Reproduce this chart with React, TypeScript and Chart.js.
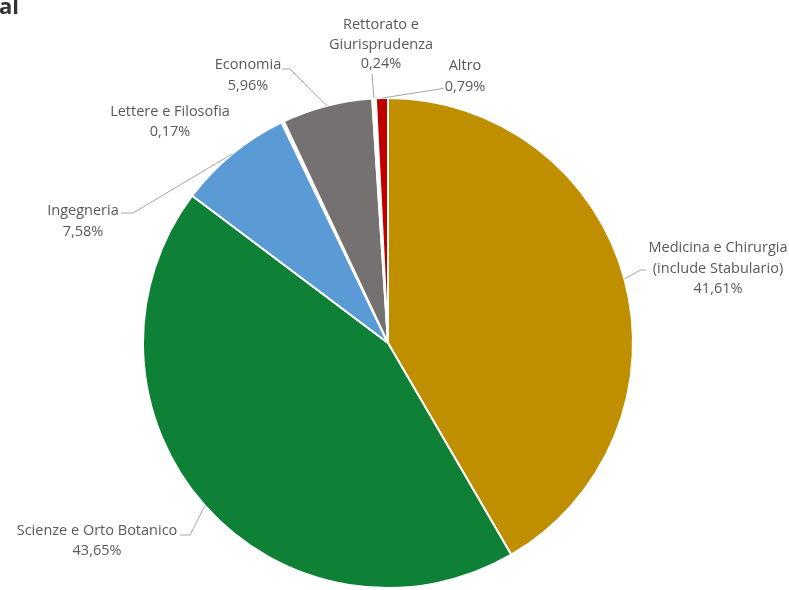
import React, { useEffect, useRef } from "react";
import { Chart, registerables } from "chart.js";

Chart.register(...registerables);

const categories = [
  "Medicina e Chirurgia (include Stabulario)",
  "Scienze e Orto Botanico",
  "Ingegneria",
  "Lettere e Filosofia",
  "Economia",
  "Rettorato e Giurisprudenza",
  "Altro",
];
const categoryLines = [
  ["Medicina e Chirurgia", "(include Stabulario)"],
  ["Scienze e Orto Botanico"],
  ["Ingegneria"],
  ["Lettere e Filosofia"],
  ["Economia"],
  ["Rettorato e", "Giurisprudenza"],
  ["Altro"],
];
const values = [41.61, 43.65, 7.58, 0.17, 5.96, 0.24, 0.79];
const colors = ["#BF8F00", "#0E8136", "#5B9BD5", "#FFFFFF", "#767171", "#FFFFFF", "#C00000"];

// label layout (text centre of first line, line height, leader polyline start points)
const labelLayout = [
  { x: 718, y: 248, lh: 20.5, lead: [[646, 270], [640, 270]] },
  { x: 97, y: 531, lh: 19.5, lead: [[180, 535], [190, 535]] },
  { x: 83, y: 211, lh: 21, lead: [[121, 213], [133, 213]] },
  { x: 170, y: 112, lh: 20, lead: [] as number[][] },
  { x: 248, y: 65, lh: 21, lead: [[282, 69], [290, 69]] },
  { x: 381, y: 25, lh: 19.5, lead: [[372, 74]] },
  { x: 465, y: 66, lh: 21, lead: [[444, 88], [440, 89]] },
];

const fmtPct = (v: number) => v.toFixed(2).replace(".", ",") + "%";

const labelPlugin = {
  id: "pieLabels",
  afterDraw(chart: any) {
    const ctx = chart.ctx;
    const meta = chart.getDatasetMeta(0);
    ctx.save();
    // cut-off title fragment
    ctx.fillStyle = "#333333";
    ctx.font = "bold 22px 'Open Sans', sans-serif";
    ctx.textAlign = "left";
    ctx.textBaseline = "alphabetic";
    ctx.fillText("al", -1, 14);

    meta.data.forEach((arc: any, i: number) => {
      const p = arc.getProps(["x", "y", "startAngle", "endAngle", "outerRadius"], true);
      const mid = (p.startAngle + p.endAngle) / 2;
      const ex = p.x + Math.cos(mid) * p.outerRadius;
      const ey = p.y + Math.sin(mid) * p.outerRadius;
      const L = labelLayout[i];
      if (L.lead.length) {
        ctx.strokeStyle = "#A6A6A6";
        ctx.lineWidth = 1;
        ctx.beginPath();
        ctx.moveTo(L.lead[0][0], L.lead[0][1]);
        for (let k = 1; k < L.lead.length; k++) ctx.lineTo(L.lead[k][0], L.lead[k][1]);
        ctx.lineTo(ex, ey);
        ctx.stroke();
      }
      const lines = [...categoryLines[i], fmtPct(values[i])];
      ctx.fillStyle = "#595959";
      ctx.font = "14.5px 'Open Sans', sans-serif";
      ctx.textAlign = "center";
      ctx.textBaseline = "middle";
      lines.forEach((t, k) => ctx.fillText(t, L.x, L.y + k * L.lh));
    });
    ctx.restore();
  },
};

export default function App() {
  const ref = useRef<HTMLCanvasElement>(null);
  useEffect(() => {
    document.body.style.margin = "0";
    const chart = new Chart(ref.current!, {
      type: "pie",
      data: {
        labels: categories,
        datasets: [
          {
            data: values,
            backgroundColor: colors,
            borderColor: "#FFFFFF",
            borderWidth: 2,
          },
        ],
      },
      options: {
        responsive: false,
        animation: false,
        layout: { padding: { top: 97, bottom: 1, left: 0, right: 13 } },
        plugins: { legend: { display: false }, tooltip: { enabled: false } },
      },
      plugins: [labelPlugin],
    });
    return () => chart.destroy();
  }, []);
  return (
    <div style={{ position: "fixed", left: 0, top: 0, width: 789, height: 590, background: "#fff" }}>
      <canvas ref={ref} width={789} height={590} />
    </div>
  );
}
